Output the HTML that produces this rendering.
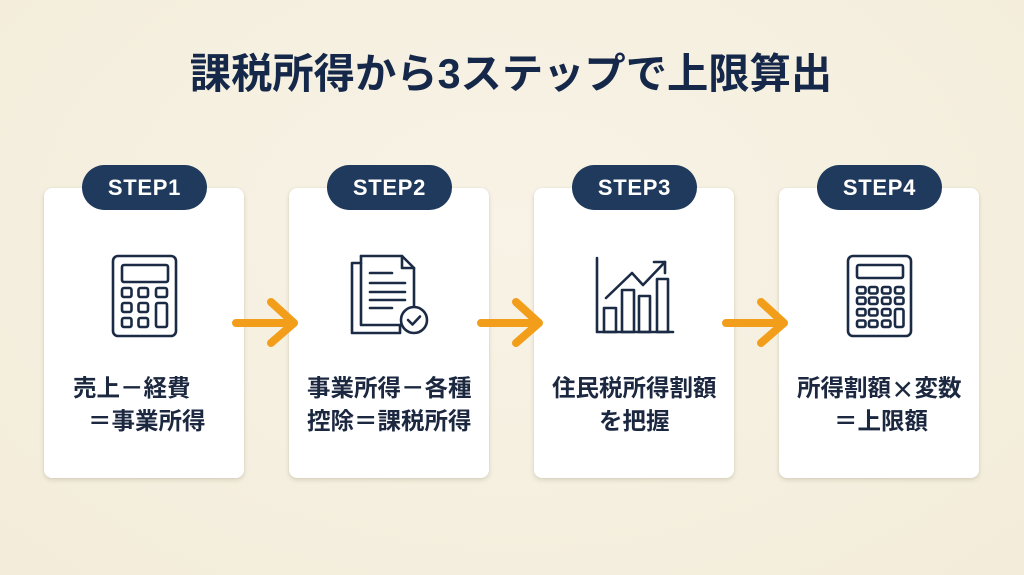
<!DOCTYPE html>
<html lang="ja">
<head>
<meta charset="utf-8">
<style>
  html,body{margin:0;padding:0;}
  body{width:1024px;height:575px;overflow:hidden;position:relative;
    background:radial-gradient(ellipse at 50% 40%, #f8f3e6 0%, #f5efdf 60%, #f3ecda 100%);
    font-family:"Liberation Sans","Noto Sans CJK JP",sans-serif;}
  .title{position:absolute;left:0;top:46px;width:1022px;text-align:center;
    font-size:41.3px;font-weight:700;color:#15284a;line-height:56px;
    font-family:"Liberation Sans","Noto Sans CJK JP",sans-serif;}
  .card{position:absolute;top:188px;width:200px;height:290px;background:#fff;border-radius:8px;
    box-shadow:0 2px 5px rgba(90,80,50,0.18),0 0 1px rgba(90,80,50,0.15);}
  .pill{position:absolute;top:165px;width:125px;height:45px;border-radius:23px;background:#1f3a5c;
    color:#fff;font-weight:700;font-size:22px;line-height:45px;text-align:center;letter-spacing:0.7px;
    font-family:"Liberation Sans","DejaVu Sans",sans-serif;}
  .t{position:absolute;font-size:23.5px;font-weight:700;color:#1c2840;line-height:33px;height:33px;white-space:nowrap;
    font-family:"Liberation Sans","Noto Sans CJK JP",sans-serif;}
  .x{display:inline-block;width:1em;text-align:center;line-height:33px;vertical-align:top;font-family:"Noto Sans CJK JP",sans-serif;}
  svg{position:absolute;left:0;top:0;}
</style>
</head>
<body>
<div class="title">課税所得から3ステップで上限算出</div>

<div class="card" style="left:44px"></div>
<div class="card" style="left:289px"></div>
<div class="card" style="left:534px"></div>
<div class="card" style="left:779px"></div>

<div class="pill" style="left:82px">STEP1</div>
<div class="pill" style="left:327px">STEP2</div>
<div class="pill" style="left:572px">STEP3</div>
<div class="pill" style="left:817px">STEP4</div>

<div class="t" style="left:73px;top:372px">売上－経費</div>
<div class="t" style="left:88px;top:405px">＝事業所得</div>

<div class="t" style="left:307px;top:372px">事業所得－各種</div>
<div class="t" style="left:307px;top:405px">控除＝課税所得</div>

<div class="t" style="left:552px;top:372px">住民税所得割額</div>
<div class="t" style="left:599px;top:405px">を把握</div>

<div class="t" style="left:797px;top:372px">所得割額<span class="x">×</span>変数</div>
<div class="t" style="left:834px;top:405px">＝上限額</div>

<svg width="1024" height="575" viewBox="0 0 1024 575">
  <g fill="none" stroke="#1b2a45" stroke-width="2.6" stroke-linejoin="round" stroke-linecap="round">
    <!-- Calculator 1 -->
    <rect x="113" y="256" width="63" height="80" rx="5"/>
    <rect x="122" y="265" width="46" height="17" rx="2"/>
    <rect x="122" y="288" width="9.5" height="9" rx="2"/>
    <rect x="138.5" y="288" width="9.5" height="9" rx="2"/>
    <rect x="156" y="288" width="11" height="9" rx="2"/>
    <rect x="122" y="303" width="9.5" height="9" rx="2"/>
    <rect x="138.5" y="303" width="9.5" height="9" rx="2"/>
    <rect x="156" y="303" width="11" height="24" rx="2"/>
    <rect x="122" y="318" width="9.5" height="9" rx="2"/>
    <rect x="138.5" y="318" width="9.5" height="9" rx="2"/>

    <!-- Document icon -->
    <path d="M361 263 H352 V333 H400 V325"/>
    <path d="M361 256 H402 L414 268 V306"/>
    <path d="M402 256 V268 H414"/>
    <path d="M361 256 V325 H401"/>
    <path d="M370 273 H392 M370 283 H405 M370 292 H405 M370 300 H405 M370 308 H392"/>
    <circle cx="414" cy="320" r="13"/>
    <path d="M408 320 L412.5 324.5 L420 316.5"/>

    <!-- Chart icon -->
    <path d="M597 258 V332 H673"/>
    <rect x="604" y="308" width="12" height="24"/>
    <rect x="622" y="290" width="12" height="42"/>
    <rect x="639" y="296" width="11" height="36"/>
    <rect x="657" y="279" width="11" height="53"/>
    <path d="M606 298 L632 273 L643 285 L665 262"/>
    <path d="M654 262 H665 V273"/>

    <!-- Calculator 4 -->
    <rect x="848" y="256" width="63" height="80" rx="5"/>
    <rect x="857" y="265" width="46" height="13" rx="2"/>
    <rect x="857" y="287" width="8.5" height="6.5" rx="2"/>
    <rect x="869" y="287" width="8.5" height="6.5" rx="2"/>
    <rect x="882" y="287" width="8.5" height="6.5" rx="2"/>
    <rect x="895" y="287" width="8.5" height="6.5" rx="2"/>
    <rect x="857" y="297.5" width="8.5" height="6.5" rx="2"/>
    <rect x="869" y="297.5" width="8.5" height="6.5" rx="2"/>
    <rect x="882" y="297.5" width="8.5" height="6.5" rx="2"/>
    <rect x="895" y="297.5" width="8.5" height="6.5" rx="2"/>
    <rect x="857" y="309" width="8.5" height="6.5" rx="2"/>
    <rect x="869" y="309" width="8.5" height="6.5" rx="2"/>
    <rect x="882" y="309" width="8.5" height="6.5" rx="2"/>
    <rect x="895" y="309" width="8.5" height="18" rx="2"/>
    <rect x="857" y="320.5" width="8.5" height="6.5" rx="2"/>
    <rect x="869" y="320.5" width="8.5" height="6.5" rx="2"/>
    <rect x="882" y="320.5" width="8.5" height="6.5" rx="2"/>
  </g>

  <!-- Arrows -->
  <g fill="none" stroke="#f29e1b" stroke-width="8" stroke-linecap="round" stroke-linejoin="round">
    <path d="M236 323 H294 M271 302 L294 323 L271 343"/>
    <path d="M481 323 H539 M516 302 L539 323 L516 343"/>
    <path d="M726 323 H784 M761 302 L784 323 L761 343"/>
  </g>
</svg>
</body>
</html>
